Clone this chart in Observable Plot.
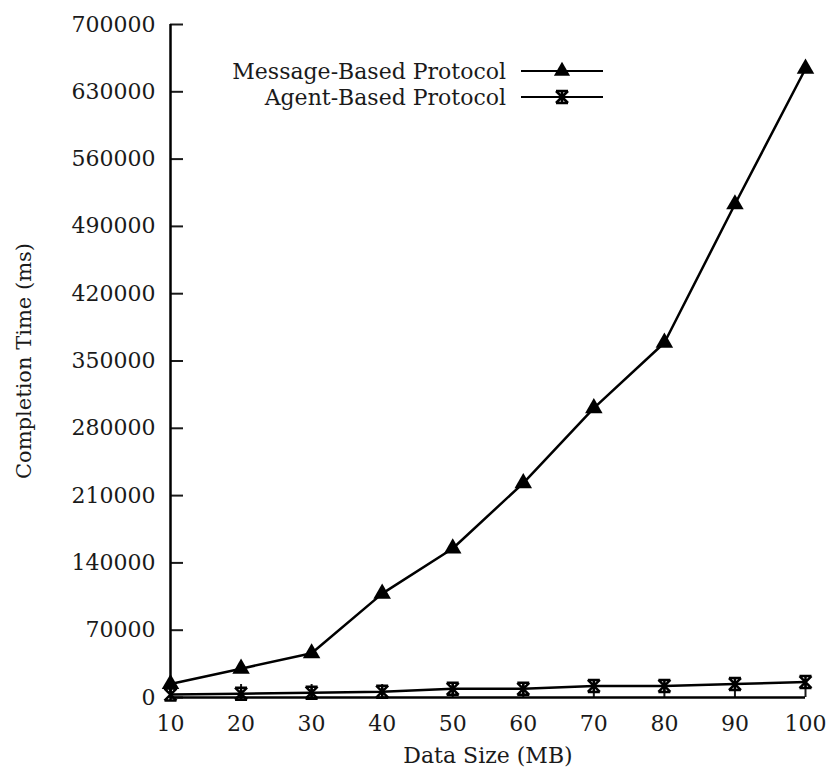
<!DOCTYPE html>
<html>
<head>
<meta charset="utf-8">
<script src="https://cdn.jsdelivr.net/npm/d3@7"></script>
<script src="https://cdn.jsdelivr.net/npm/@observablehq/plot@0.6"></script>
<style>
  html, body { margin: 0; padding: 0; background: #fff; }
  #chart { width: 829px; height: 773px; }
  #chart svg, #chart svg text { font-family: "DejaVu Serif", serif !important; }
</style>
</head>
<body>
<div id="chart"></div>
<script>
const dataSizes = [10, 20, 30, 40, 50, 60, 70, 80, 90, 100];
const messageBased = [14000, 30000, 46000, 108000, 155000, 223000, 301000, 369000, 513000, 654000];
const agentBased = [3000, 4000, 5000, 6000, 9000, 9000, 12000, 12000, 14000, 16000];
const yTicks = [0, 70000, 140000, 210000, 280000, 350000, 420000, 490000, 560000, 630000, 700000];
const xTicks = [10, 20, 30, 40, 50, 60, 70, 80, 90, 100];
const seriesNames = ["Message-Based Protocol", "Agent-Based Protocol"];

const FONT = "'DejaVu Serif', serif";
const FS = 22;
const msgData = dataSizes.map((x, i) => ({x, y: messageBased[i]}));
const agtData = dataSizes.map((x, i) => ({x, y: agentBased[i]}));

const zhe = {
  draw(ctx, size) {
    const r = Math.sqrt(size / Math.PI);
    ctx.moveTo(-r, -r); ctx.lineTo(r, r);
    ctx.moveTo(-r, r); ctx.lineTo(r, -r);
    ctx.moveTo(0, -r); ctx.lineTo(0, r);
    ctx.moveTo(-r, -r); ctx.lineTo(r, -r);
    ctx.moveTo(-r, r); ctx.lineTo(r, r);
  }
};

function legend() {
  const g = d3.create("svg:g");
  const rows = [
    {label: seriesNames[0], sym: "tri", y: 71},
    {label: seriesNames[1], sym: "zhe", y: 97}
  ];
  for (const r of rows) {
    g.append("text").attr("x", 506).attr("y", r.y).attr("dy", "0.35em")
      .attr("text-anchor", "end").attr("font-size", 22).attr("font-family", FONT)
      .attr("fill", "#1a1a1a").text(r.label);
    g.append("line").attr("x1", 521).attr("x2", 603).attr("y1", r.y).attr("y2", r.y)
      .attr("stroke", "black").attr("stroke-width", 2);
    if (r.sym === "tri") {
      g.append("path").attr("transform", `translate(562,${r.y})`)
        .attr("d", d3.symbol(d3.symbolTriangle, 36 * Math.PI)()).attr("fill", "black");
    } else {
      g.append("path").attr("transform", `translate(562,${r.y})`)
        .attr("d", d3.symbol(zhe, 36 * Math.PI)()).attr("fill", "none")
        .attr("stroke", "black").attr("stroke-width", 2.5);
    }
  }
  return g.node();
}

const chart = Plot.plot({
  width: 829,
  height: 773,
  marginLeft: 170,
  marginRight: 24,
  marginTop: 24,
  marginBottom: 76,
  style: {fontFamily: FONT, fontSize: FS + "px", color: "#1a1a1a", background: "white"},
  x: {domain: [10, 100]},
  y: {domain: [0, 700000]},
  marks: [
    Plot.axisX({ticks: xTicks, tickSize: -13, tickPadding: 31, tickFormat: d => String(d), label: null, fontSize: FS, fontFamily: FONT, strokeWidth: 2}),
    Plot.axisY({ticks: yTicks, tickSize: -13, tickPadding: 28, tickFormat: d => String(d), label: null, fontSize: FS, fontFamily: FONT, strokeWidth: 2}),
    Plot.ruleX([10], {stroke: "black", strokeWidth: 2.5}),
    Plot.ruleY([0], {stroke: "black", strokeWidth: 2.5}),
    Plot.line(msgData, {x: "x", y: "y", stroke: "black", strokeWidth: 2.5}),
    Plot.line(agtData, {x: "x", y: "y", stroke: "black", strokeWidth: 2.5}),
    Plot.dot(msgData, {x: "x", y: "y", symbol: "triangle", r: 6.5, fill: "black", stroke: "none"}),
    Plot.dot(agtData, {x: "x", y: "y", symbol: zhe, r: 6, fill: "none", stroke: "black", strokeWidth: 2.5}),
    Plot.text(["Data Size (MB)"], {frameAnchor: "bottom", dy: 58, lineAnchor: "middle", fontSize: FS, fontFamily: FONT, fill: "#1a1a1a"}),
    Plot.text(["Completion Time (ms)"], {frameAnchor: "left", dx: -146, rotate: -90, lineAnchor: "middle", textAnchor: "middle", fontSize: 21, fontFamily: FONT, fill: "#1a1a1a"}),
    legend
  ]
});
document.getElementById("chart").appendChild(chart);
</script>
</body>
</html>
